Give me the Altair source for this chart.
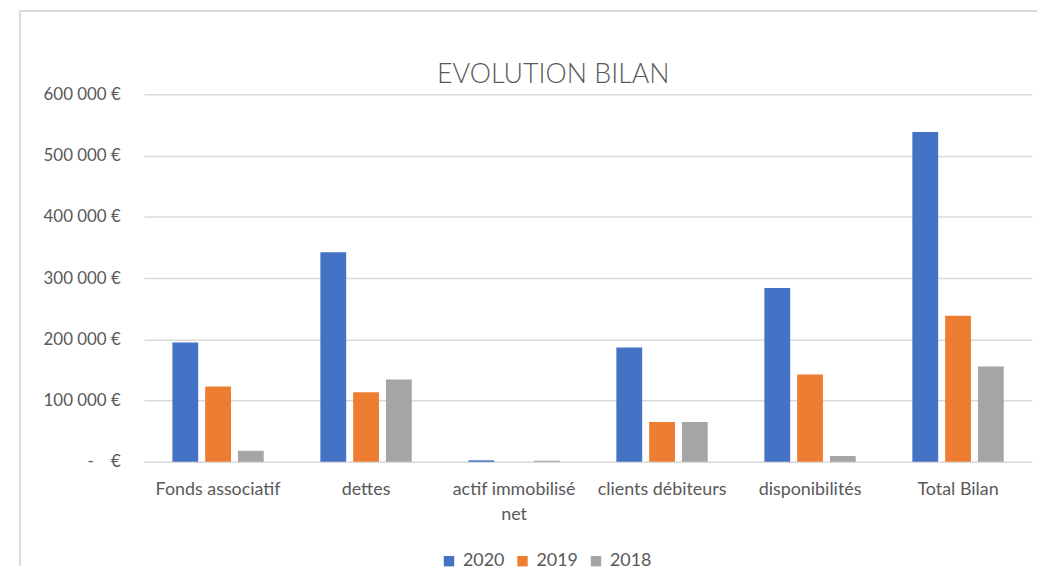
import altair as alt
import pandas as pd

categories = ["Fonds associatif", "dettes", "actif immobilisé net",
              "clients débiteurs", "disponibilités", "Total Bilan"]
years = ["2020", "2019", "2018"]
v2020 = [195000, 342000, 2500, 186500, 284000, 538500]
v2019 = [123000, 113500, 0, 65000, 142500, 238500]
v2018 = [18000, 134500, 1800, 65000, 9500, 155500]
colors = ["#4472C4", "#ED7D31", "#A5A5A5"]
title_text = ["EVOLUTION BILAN"]

rows = []
for i, c in enumerate(categories):
    for y, vals in zip(years, [v2020, v2019, v2018]):
        rows.append({"cat": c, "year": y, "value": vals[i]})
df = pd.DataFrame(rows)

FONT = "Lato"
GREY = "#595959"
NB = "\u00a0"

ylabel = ("datum.value == 0 ? '-" + NB * 4 + "€' : "
          "replace(format(datum.value, ','), ',', '" + NB + "') + '" + NB + "€'")
xlabel = ("datum.label == 'actif immobilisé net' ? "
          "['actif immobilisé', 'net'] : datum.label")

bars = alt.Chart(df).mark_bar().encode(
    x=alt.X("cat:N", sort=categories, title=None,
            scale=alt.Scale(paddingInner=0.3826, paddingOuter=0.1913),
            axis=alt.Axis(labelAngle=0, domain=False, ticks=False,
                          labelPadding=19, labelFontSize=18, labelFont=FONT,
                          labelColor=GREY, labelExpr=xlabel,
                          labelLineHeight=25, labelLimit=220)),
    xOffset=alt.XOffset("year:N", sort=years,
                        scale=alt.Scale(paddingInner=0.2121, paddingOuter=0)),
    y=alt.Y("value:Q", title=None,
            scale=alt.Scale(domain=[0, 600000]),
            axis=alt.Axis(values=[0, 100000, 200000, 300000, 400000, 500000, 600000],
                          domain=False, ticks=False, labelPadding=24,
                          labelFontSize=17, labelFont=FONT, labelColor=GREY,
                          labelExpr=ylabel, gridColor="#D9D9D9", gridWidth=1.5)),
    color=alt.Color("year:N", sort=years,
                    scale=alt.Scale(domain=years, range=colors),
                    legend=alt.Legend(title=None, orient="none", direction="horizontal",
                                      legendX=298, legendY=461,
                                      symbolType="square", symbolSize=110,
                                      symbolStrokeWidth=0, labelFontSize=18,
                                      labelFont=FONT, labelColor=GREY,
                                      labelOffset=5, columnPadding=9)),
)

frame_df = pd.DataFrame({"k": [0]})
left_frame = alt.Chart(frame_df).mark_rule(color="#D9D9D9", strokeWidth=2).encode(
    x=alt.value(-125), y=alt.value(-84), y2=alt.value(475))
top_frame = alt.Chart(frame_df).mark_rule(color="#D9D9D9", strokeWidth=2).encode(
    x=alt.value(-125), x2=alt.value(899), y=alt.value(-84))

title = alt.Chart(pd.DataFrame({"t": title_text})).mark_text(
    font=FONT, fontSize=27, fontWeight=300, color=GREY,
    align="center", baseline="alphabetic").encode(
    text="t:N", x=alt.value(412), y=alt.value(-11))

chart = alt.layer(left_frame, top_frame, title, bars).properties(
    width=894, height=370,
    padding={"left": 11, "top": 0, "right": 0, "bottom": 0},
).configure_view(stroke=None)

chart.save("out.html", embed_options={"renderer": "svg", "actions": False})
